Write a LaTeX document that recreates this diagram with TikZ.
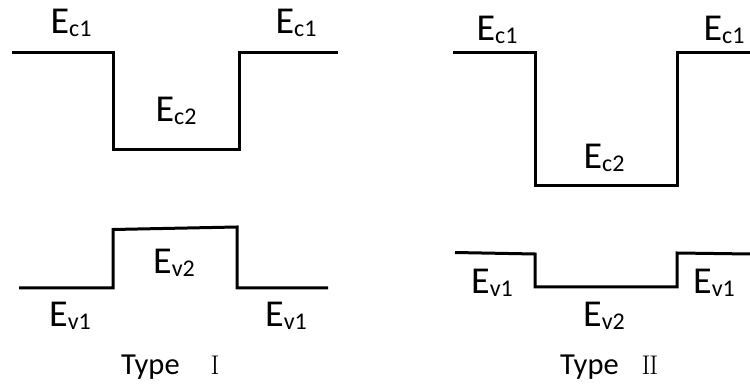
\documentclass[tikz,border=0pt]{standalone}
\usepackage{fontspec}
\setmainfont{Carlito}
\newfontfamily\romfont{Latin Modern Roman}
\newcommand\lvl[1]{E\raisebox{-3pt}{\fontsize{24}{24}\selectfont #1}}
\tikzset{
  band/.style={line width=3pt, line join=miter},
  lab/.style={inner sep=0pt, anchor=base, font=\fontsize{38}{38}\selectfont},
  typelab/.style={inner sep=0pt, anchor=base west, font=\fontsize{30.5}{30.5}\selectfont},
  roman/.style={inner sep=0pt, anchor=base west, font=\romfont\fontsize{27}{27}\selectfont},
}
\begin{document}
\begin{tikzpicture}[x=1pt,y=-1pt]
\useasboundingbox (0,0) rectangle (750,387);
% ---- Type I ----
\coordinate (a1) at (12,53);
\coordinate (a2) at (113,53);
\coordinate (a3) at (113,150);
\coordinate (a4) at (239,150);
\coordinate (a5) at (239,53);
\coordinate (a6) at (338,53);
\draw[band] (a1) -- (a2) -- (a3) -- (a4) -- (a5) -- (a6);
\coordinate (b1) at (19,288);
\coordinate (b2) at (113,288);
\coordinate (b3) at (113,229.5);
\coordinate (b4) at (237,227);
\coordinate (b5) at (237,288);
\coordinate (b6) at (328,288);
\draw[band] (b1) -- (b2) -- (b3) -- (b4) -- (b5) -- (b6);
\node[lab] (ec1l) at (71,34) {\lvl{c1}};
\node[lab] (ec1r) at (296,34) {\lvl{c1}};
\node[lab] (ec2) at (176,122) {\lvl{c2}};
\node[lab] (ev2) at (174,274) {\lvl{v2}};
\node[lab] (ev1l) at (70,327) {\lvl{v1}};
\node[lab] (ev1r) at (286,327) {\lvl{v1}};
\node[typelab] (t1) at (121,374) {Type};
\node[roman] (r1) at (210.5,375) {I};
% ---- Type II ----
\coordinate (c1) at (453,53);
\coordinate (c2) at (535,53);
\coordinate (c3) at (535,186);
\coordinate (c4) at (677,186);
\coordinate (c5) at (677,53);
\coordinate (c6) at (750,53);
\draw[band] (c1) -- (c2) -- (c3) -- (c4) -- (c5) -- (c6);
\coordinate (d1) at (455,252.5);
\coordinate (d2) at (535,254);
\coordinate (d3) at (535,287);
\coordinate (d4) at (677,287);
\coordinate (d5) at (677,253);
\coordinate (d6) at (750,254);
\draw[band] (d1) -- (d2) -- (d3) -- (d4) -- (d5) -- (d6);
\node[lab] (fc1l) at (497,40.5) {\lvl{c1}};
\node[lab] (fc1r) at (724,40.5) {\lvl{c1}};
\node[lab] (fc2) at (604,169) {\lvl{c2}};
\node[lab] (fv1l) at (492,294) {\lvl{v1}};
\node[lab] (fv1r) at (714,294) {\lvl{v1}};
\node[lab] (fv2) at (604,327) {\lvl{v2}};
\node[typelab] (t2) at (560,374) {Type};
\node[roman] (r2) at (641.5,375) {I\kern-1.2pt I};
\end{tikzpicture}
\end{document}
